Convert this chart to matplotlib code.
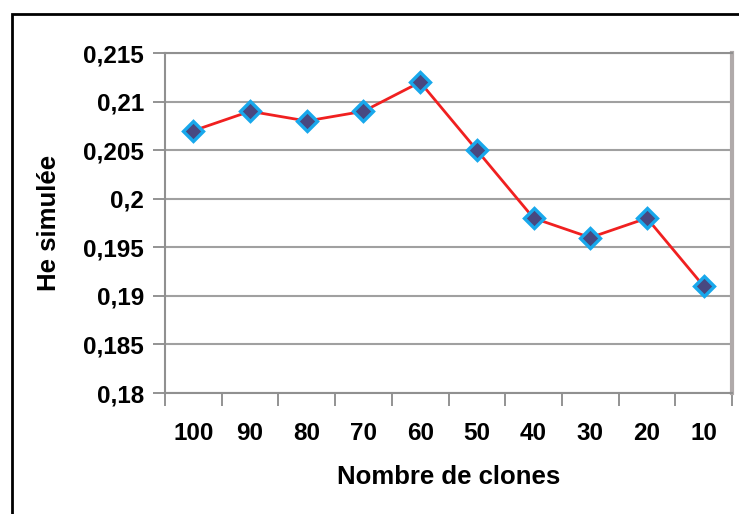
import matplotlib.pyplot as plt
from matplotlib.patches import Rectangle

categories = ['100', '90', '80', '70', '60', '50', '40', '30', '20', '10']
he_values = [0.207, 0.209, 0.208, 0.209, 0.212, 0.205, 0.198, 0.196, 0.198, 0.191]
y_ticks = [0.18, 0.185, 0.19, 0.195, 0.2, 0.205, 0.21, 0.215]
y_labels = ['0,18', '0,185', '0,19', '0,195', '0,2', '0,205', '0,21', '0,215']

plt.rcParams['font.family'] = ['Liberation Sans', 'DejaVu Sans']
plt.rcParams['font.weight'] = 'bold'

fig = plt.figure(figsize=(7.39, 5.14), dpi=100)
W, H = 739, 514

# outer chart frame (cut off on right and bottom)
fig.patches.append(Rectangle((12 / W, -0.1), 2.0, (H - 14) / H + 0.1,
                             transform=fig.transFigure, fill=False,
                             edgecolor='black', linewidth=2))

ax = fig.add_axes([165 / W, 1 - 393 / H, (732 - 165) / W, (393 - 53) / H])
x = range(len(categories))
ax.plot(x, he_values, color='#f02020', linewidth=2, zorder=3,
        marker='D', markersize=10, markerfacecolor='#484880',
        markeredgecolor='#18a8ec', markeredgewidth=2.4)

ax.set_xlim(-0.5, len(categories) - 0.5)
ax.set_ylim(0.18, 0.215)
ax.set_yticks(y_ticks)
ax.set_yticklabels(y_labels)
ax.set_xticks([i - 0.5 for i in range(len(categories) + 1)])
ax.set_xticklabels([])
ax.set_xticks(list(x), minor=True)
ax.set_xticklabels(categories, minor=True)

ax.tick_params(axis='y', length=9, width=1.2, color='#808080', labelsize=17.5, pad=6)
ax.tick_params(axis='x', which='major', length=9, width=1.2, color='#808080')
ax.tick_params(axis='x', which='minor', length=0, labelsize=17.5, pad=21)

ax.grid(axis='y', color='#a0a0a0', linewidth=1.5)
ax.set_axisbelow(True)
for side in ['left', 'bottom', 'top']:
    ax.spines[side].set_color('#909090')
    ax.spines[side].set_linewidth(1.5)
ax.spines['right'].set_color('#b0aaaa')
ax.spines['right'].set_linewidth(3)

ax.set_ylabel('He simulée', fontsize=18.5, fontweight='bold', labelpad=16)
ax.set_xlabel('Nombre de clones', fontsize=18.5, fontweight='bold', labelpad=14)

fig.savefig('out.png', dpi=100)
